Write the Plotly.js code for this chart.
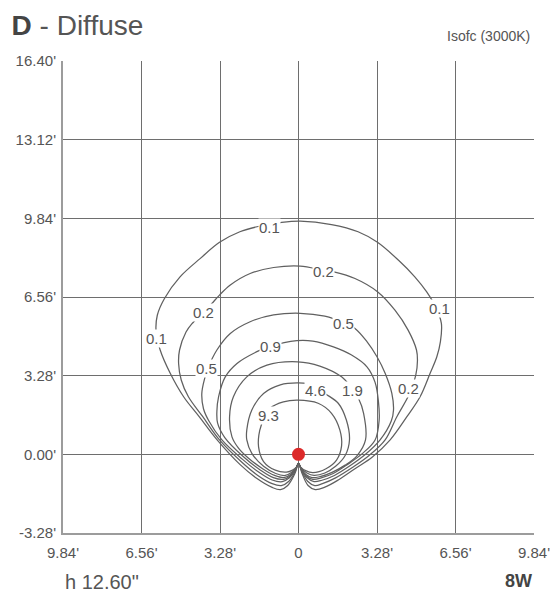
<!DOCTYPE html>
<html>
<head>
<meta charset="utf-8">
<script src="https://cdn.plot.ly/plotly-3.0.1.min.js"></script>
<style>html,body{margin:0;padding:0;background:#fff;}#chart{width:550px;height:597px;}</style>
</head>
<body>
<div id="chart"></div>
<script>
// Isofootcandle contours (feet)
const levels = ["0.1", "0.2", "0.5", "0.9", "1.9", "4.6", "9.3"];

const iso01X = [0,-0.15,-0.45,-0.75,-1.1,-1.75,-2.45,-3.4,-4.15,-4.8,-5.36,-5.78,-5.95,-5.9,-5.6,-4.95,-4.1,-3.3,-2.45,-1.6,-0.76,0.07,1.38,2.49,3.3,4.17,4.86,5.35,5.75,5.97,5.93,5.78,5.5,5.08,4.53,3.83,3.1,2.36,1.66,1.1,0.7,0.4,0.15,0];
const iso01Y = [-0.38,-0.8,-1.3,-1.47,-1.38,-1.0,-0.42,0.6,1.57,2.4,3.38,4.35,5.1,5.8,6.5,7.4,8.17,8.84,9.28,9.52,9.66,9.72,9.58,9.28,8.84,8.1,7.4,6.78,6.1,5.46,4.7,4.07,3.38,2.4,1.57,0.6,-0.1,-0.6,-1.07,-1.37,-1.47,-1.3,-0.8,-0.38];

const iso02X = [0,-0.14,-0.4,-0.72,-1.1,-1.7,-2.4,-3.3,-4.0,-4.6,-4.9,-5.01,-4.97,-4.7,-4.45,-3.97,-3.62,-3.3,-2.85,-2.02,-1.04,0.07,1.03,1.52,2.36,3.3,4.03,4.58,4.93,4.97,4.9,4.6,4.11,3.62,2.95,2.25,1.55,1.0,0.68,0.38,0.14,0];
const iso02Y = [-0.38,-0.72,-1.12,-1.3,-1.22,-0.88,-0.3,0.6,1.57,2.4,3.1,3.79,4.35,5.1,5.45,5.92,6.29,6.64,7.06,7.54,7.79,7.85,7.68,7.6,7.33,6.78,6.01,5.18,4.35,3.9,3.3,2.45,1.57,0.6,-0.05,-0.55,-0.98,-1.22,-1.3,-1.12,-0.72,-0.38];

const iso05X = [0,-0.13,-0.38,-0.68,-1.1,-1.65,-2.35,-3.2,-3.75,-3.97,-4.04,-3.92,-3.78,-3.41,-2.85,-2.02,-1.04,0.07,1.1,1.87,2.36,2.86,3.28,3.62,3.9,3.97,3.88,3.41,2.8,2.15,1.5,0.98,0.65,0.36,0.13,0];
const iso05Y = [-0.38,-0.66,-0.98,-1.14,-1.07,-0.75,-0.2,0.6,1.4,1.9,2.54,3.17,3.6,4.35,5.04,5.53,5.81,5.88,5.76,5.5,5.25,4.7,4.07,3.38,2.54,1.85,1.4,0.6,0.0,-0.48,-0.88,-1.08,-1.14,-0.98,-0.66,-0.38];

const iso09X = [0,-0.12,-0.35,-0.62,-1.05,-1.6,-2.3,-3.08,-3.38,-3.41,-3.34,-3.06,-2.57,-1.74,-1.2,-0.07,0.6,1.46,2.2,2.86,3.2,3.34,3.37,3.2,2.65,2.05,1.45,0.95,0.6,0.33,0.12,0];
const iso09Y = [-0.38,-0.62,-0.9,-1.04,-0.97,-0.65,-0.1,0.7,1.3,1.8,2.4,3.23,3.79,4.28,4.5,4.74,4.72,4.48,4.15,3.65,3.0,2.2,1.43,0.6,0.02,-0.42,-0.8,-0.98,-1.04,-0.9,-0.62,-0.38];

const iso19X = [0,-0.12,-0.33,-0.6,-1.0,-1.5,-2.1,-2.5,-2.78,-2.88,-2.72,-2.16,-1.32,-0.03,0.89,1.8,2.23,2.51,2.72,2.8,2.45,1.95,1.4,0.9,0.56,0.31,0.11,0];
const iso19Y = [-0.38,-0.6,-0.84,-0.97,-0.88,-0.6,-0.15,0.25,0.73,1.57,2.4,3.23,3.72,3.86,3.68,3.23,2.75,2.33,1.71,0.6,-0.05,-0.45,-0.75,-0.93,-0.97,-0.84,-0.6,-0.38];

const iso46X = [0,-0.1,-0.3,-0.55,-0.95,-1.46,-1.95,-2.16,-2.16,-1.95,-1.46,-0.76,0,0.61,1.1,1.66,2.0,2.13,1.95,1.55,1.1,0.65,0.35,0.1,0];
const iso46Y = [-0.38,-0.56,-0.76,-0.88,-0.8,-0.5,0.04,0.6,1.02,1.85,2.54,2.9,2.98,2.9,2.54,2.13,1.43,0.6,-0.05,-0.5,-0.78,-0.88,-0.78,-0.56,-0.38];

const iso93X = [0,-0.08,-0.25,-0.5,-0.97,-1.46,-1.67,-1.62,-1.4,-1.18,-0.63,-0.03,0.82,1.38,1.73,1.8,1.59,1.15,0.6,0.3,0.08,0];
const iso93Y = [-0.38,-0.52,-0.66,-0.74,-0.66,-0.3,0.32,1.0,1.6,1.93,2.19,2.26,2.13,1.71,1.01,0.35,-0.24,-0.6,-0.76,-0.68,-0.52,-0.38];

// Contour labels
const labelText = ["0.1","0.1","0.1","0.2","0.2","0.2","0.5","0.5","0.9","1.9","4.6","9.3"];
const labelX = [-1.2,-5.95,5.88,1.03,-3.98,4.58,1.87,-3.83,-1.18,2.24,0.69,-1.27];
const labelY = [9.45,4.85,6.06,7.62,5.91,2.74,5.45,3.58,4.48,2.68,2.68,1.64];

// Light source
const sourceX = [0];
const sourceY = [0];

// Axis ticks
const xTickVals = [-9.84,-6.56,-3.28,0,3.28,6.56,9.84];
const xTickText = ["9.84'","6.56'","3.28'","0","3.28'","6.56'","9.84'"];
const yTickVals = [-3.28,0,3.28,6.56,9.84,13.12,16.40];
const yTickText = ["-3.28'","0.00'","3.28'","6.56'","9.84'","13.12'","16.40'"];

const FONT = "Liberation Sans, Arial, Helvetica, sans-serif";
const TXT = "#555555";

const contourSets = [
  [iso01X, iso01Y], [iso02X, iso02Y], [iso05X, iso05Y], [iso09X, iso09Y],
  [iso19X, iso19Y], [iso46X, iso46Y], [iso93X, iso93Y]
];

const traces = contourSets.map((c, i) => ({
  type: 'scatter', mode: 'lines', x: c[0], y: c[1], name: levels[i],
  line: {color: '#606060', width: 1.25, shape: 'spline', smoothing: 1},
  hoverinfo: 'skip', showlegend: false
}));

traces.push({
  type: 'scatter', mode: 'markers', x: sourceX, y: sourceY,
  marker: {color: '#dc2a2a', size: 13, line: {width: 0}},
  hoverinfo: 'skip', showlegend: false
});

const annotations = labelText.map((t, i) => ({
  x: labelX[i], y: labelY[i], xref: 'x', yref: 'y', text: t, showarrow: false,
  font: {family: FONT, size: 15, color: TXT}, bgcolor: '#ffffff', borderpad: 0
}));

annotations.push(
  {xref: 'paper', yref: 'paper', x: 0.995, y: 1.053, xanchor: 'right', yanchor: 'middle',
   text: 'Isofc (3000K)', showarrow: false, font: {family: FONT, size: 14, color: TXT}},
  {xref: 'paper', yref: 'paper', x: 0.0, y: -0.104, xanchor: 'left', yanchor: 'middle',
   text: 'h 12.60"', showarrow: false, font: {family: FONT, size: 20, color: TXT}},
  {xref: 'paper', yref: 'paper', x: 0.999, y: -0.102, xanchor: 'right', yanchor: 'middle',
   text: '<b>8W</b>', showarrow: false, font: {family: FONT, size: 18, color: '#444'}}
);

const axisCommon = {
  showgrid: true, gridcolor: '#6e6e6e', gridwidth: 1,
  zeroline: false, showline: true, linecolor: '#9c9c9c', linewidth: 2,
  ticks: '', tickfont: {family: FONT, size: 15, color: TXT}, fixedrange: true,
  ticklabeloverflow: 'allow'
};

const layout = {
  width: 550, height: 597,
  margin: {l: 63, r: 16, t: 61, b: 64, pad: 0},
  paper_bgcolor: '#ffffff', plot_bgcolor: '#ffffff',
  title: {
    text: '<b style="color:#444">D</b> - Diffuse',
    font: {family: FONT, size: 28, color: TXT},
    x: 0.021, xanchor: 'left', xref: 'container',
    y: 0.958, yanchor: 'middle', yref: 'container'
  },
  xaxis: Object.assign({}, axisCommon, {
    range: [-9.84, 9.84], tickmode: 'array', tickvals: xTickVals, ticktext: xTickText,
    ticklabelstandoff: 5
  }),
  yaxis: Object.assign({}, axisCommon, {
    range: [-3.28, 16.40], tickmode: 'array', tickvals: yTickVals, ticktext: yTickText,
    ticklabelstandoff: 2
  }),
  annotations: annotations,
  showlegend: false
};

Plotly.newPlot('chart', traces, layout, {displayModeBar: false, staticPlot: true});
</script>
</body>
</html>
